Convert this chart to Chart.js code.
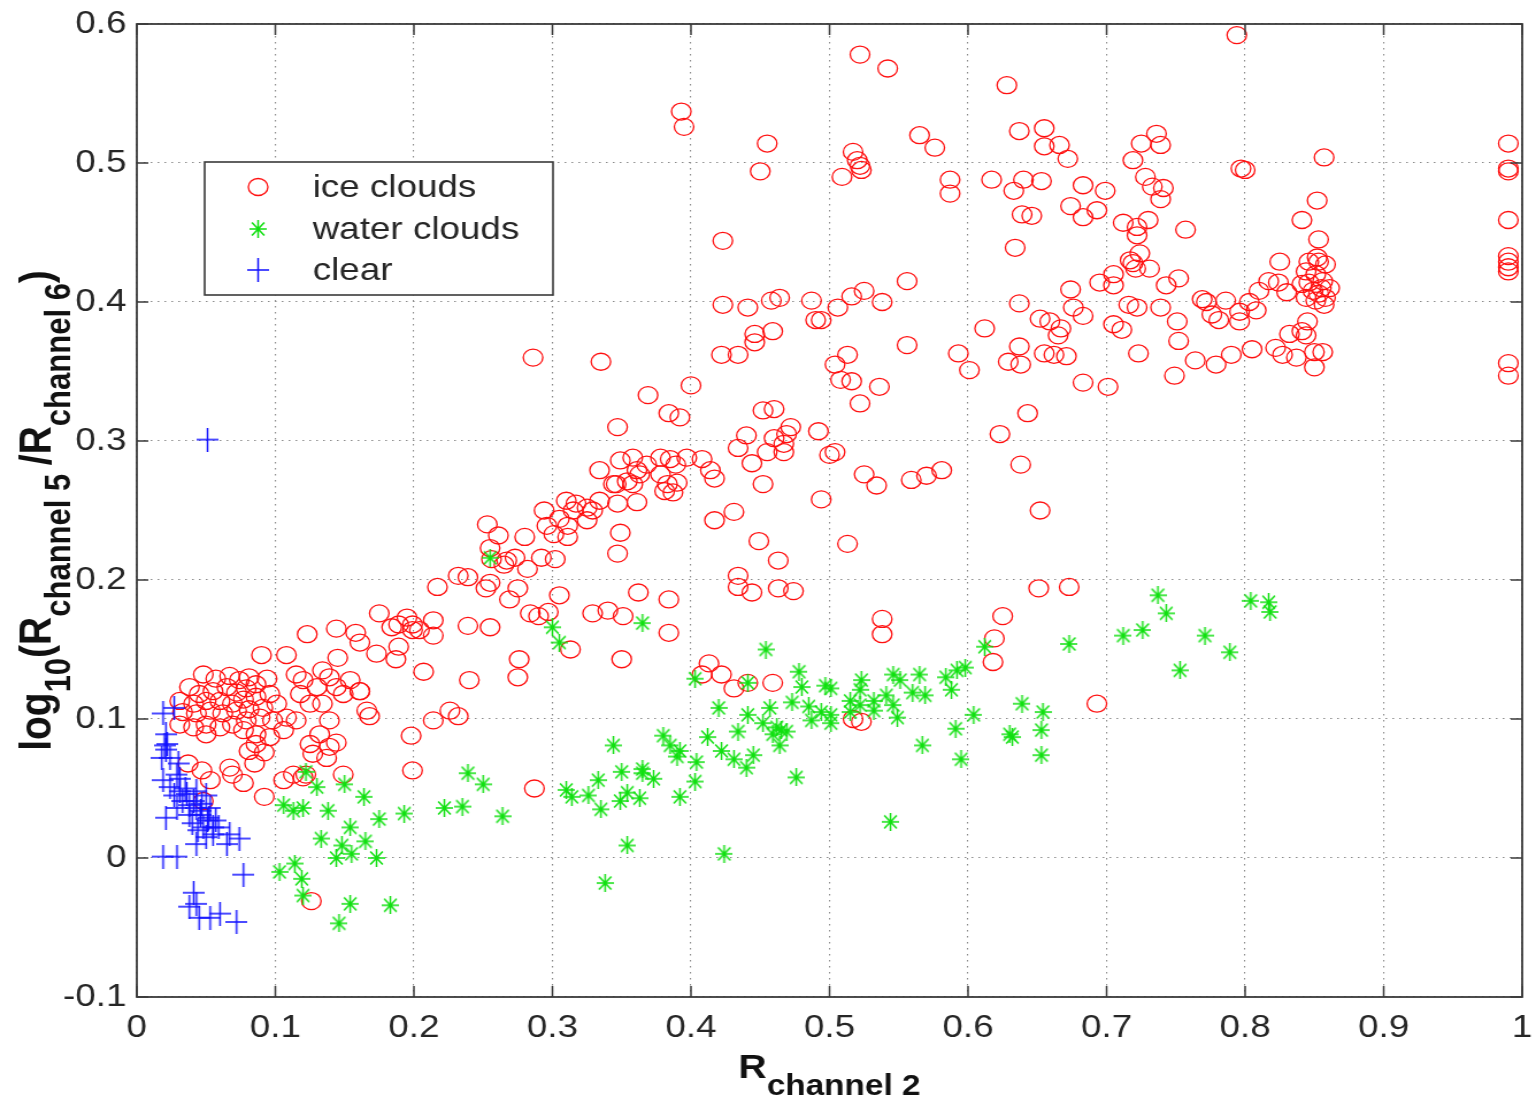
<!DOCTYPE html>
<html><head><meta charset="utf-8">
<script src="https://cdn.jsdelivr.net/npm/chart.js@4.4.1/dist/chart.umd.min.js"></script>
<style>
html,body{margin:0;padding:0;background:#fff;overflow:hidden}
#wrap{width:1336px;height:1104px;transform:scaleX(1.1497);transform-origin:0 0}
canvas{display:block}
</style></head><body>
<div id="wrap"><canvas id="c" width="1336" height="1104"></canvas></div>
<script>
// ---------- data ----------
const seriesLabels = ['ice clouds', 'water clouds', 'clear'];
const xTicks = [0,0.1,0.2,0.3,0.4,0.5,0.6,0.7,0.8,0.9,1];
const xTickLabels = ['0','0.1','0.2','0.3','0.4','0.5','0.6','0.7','0.8','0.9','1'];
const yTicks = [-0.1,0,0.1,0.2,0.3,0.4,0.5,0.6];
const yTickLabels = ['-0.1','0','0.1','0.2','0.3','0.4','0.5','0.6'];

const iceX = [
 0.522,0.542,0.628,0.794,0.393,0.395,0.455,0.450,0.423,0.565,
 0.576,0.517,0.520,0.522,0.523,0.509,0.587,0.587,0.617,0.637,
 0.655,0.655,0.666,0.672,0.633,0.640,0.653,0.639,0.646,0.683,
 0.699,0.674,0.683,0.693,0.634,0.719,0.725,0.736,0.739,0.728,
 0.733,0.741,0.739,0.712,0.722,0.730,0.722,0.717,0.724,0.721,
 0.731,0.719,0.705,0.695,0.705,0.743,0.752,0.797,0.800,0.857,
 0.852,0.841,0.757,0.853,0.990,0.990,0.990,0.990,
 0.556,0.525,0.516,0.506,0.538,0.494,0.674,0.637,0.676,0.683,
 0.716,0.722,0.739,0.751,0.612,0.652,0.659,0.667,0.665,0.705,
 0.711,0.825,0.817,0.824,0.830,
 0.846,0.853,0.858,0.844,0.851,0.846,0.856,0.861,0.849,0.853,
 0.858,0.851,0.844,0.841,0.855,0.857,0.852,
 0.769,0.772,0.786,0.776,0.781,0.796,0.796,0.803,0.808,0.810,
 0.990,0.990,0.990,0.990,
 0.423,0.441,0.458,0.464,0.487,0.490,
 0.752,0.749,0.764,0.779,0.790,0.805,0.822,0.827,0.837,0.832,
 0.841,0.845,0.844,0.850,0.856,0.850,0.990,0.990,
 0.556,0.513,0.504,0.508,0.516,0.536,0.522,0.593,0.601,0.637,
 0.629,0.638,0.655,0.662,0.671,0.723,0.683,0.701,0.643,0.623,
 0.286,0.335,0.369,0.384,0.392,0.400,0.347,0.422,0.434,0.446,
 0.446,0.459,0.452,0.460,0.440,0.434,0.444,0.460,0.467,0.472,
 0.469,0.455,0.467,0.492,0.500,0.504,0.525,0.534,0.452,0.494,
 0.513,0.417,0.431,0.449,0.463,0.434,0.434,0.444,0.463,0.474,
 0.384,0.384,0.362,0.559,0.570,0.581,0.638,0.652,
 0.349,0.358,0.368,0.361,0.363,0.354,0.346,0.358,0.378,0.385,
 0.389,0.397,0.408,0.414,0.417,0.378,0.383,0.390,0.387,0.381,
 0.334,0.344,0.361,0.347,
 0.310,0.317,0.325,0.315,0.334,0.329,0.325,0.294,0.296,0.305,
 0.311,0.301,0.311,0.349,0.347,
 0.253,0.261,0.255,0.256,0.265,0.273,0.280,0.292,0.302,0.282,
 0.232,0.239,0.217,0.255,0.252,0.275,0.269,0.305,0.284,0.290,
 0.297,0.329,0.340,0.351,0.239,0.255,0.214,0.214,0.204,0.313,
 0.276,0.350,0.267,
 0.175,0.144,0.158,0.161,0.173,0.187,0.189,0.195,0.199,0.199,
 0.207,0.123,0.108,0.090,0.145,0.161,0.166,0.168,0.198,0.199,
 0.214,0.226,0.232,0.240,0.275,0.287,0.184,0.189,
 0.048,0.057,0.067,0.074,0.081,0.038,0.045,0.055,0.065,0.072,
 0.079,0.086,0.094,0.031,0.041,0.050,0.060,0.069,0.077,0.086,
 0.096,0.033,0.043,0.053,0.062,0.072,0.081,0.091,0.101,0.031,
 0.041,0.050,0.060,0.069,0.079,0.089,0.098,0.108,0.050,0.077,
 0.086,0.096,0.106,0.115,0.118,0.125,0.130,0.134,0.139,0.144,
 0.149,0.154,0.161,0.115,0.120,0.134,0.139,0.132,0.125,0.139,
 0.144,0.137,0.149,0.127,0.122,0.037,0.047,0.053,0.067,0.077,
 0.069,0.085,0.081,0.092,0.086,0.106,0.113,0.120,0.092,0.048,
 0.126,
 0.413,0.408,0.422,0.431,0.441,0.459,0.538,0.538,0.517,0.523,
 0.625,0.619,0.618,0.651,0.673,0.693
];
const iceY = [
 0.578,0.568,0.556,0.592,0.537,0.526,0.514,0.494,0.444,0.520,
 0.511,0.508,0.502,0.498,0.495,0.490,0.488,0.478,0.488,0.523,
 0.525,0.512,0.513,0.503,0.480,0.488,0.487,0.463,0.462,0.484,
 0.480,0.469,0.461,0.466,0.439,0.502,0.514,0.521,0.513,0.490,
 0.483,0.482,0.474,0.457,0.454,0.459,0.448,0.430,0.435,0.424,
 0.424,0.428,0.420,0.414,0.412,0.412,0.417,0.496,0.495,0.504,
 0.473,0.459,0.452,0.445,0.514,0.496,0.494,0.459,
 0.415,0.408,0.404,0.396,0.400,0.387,0.409,0.399,0.396,0.390,
 0.398,0.396,0.396,0.386,0.381,0.388,0.386,0.381,0.376,0.384,
 0.380,0.429,0.415,0.414,0.407,
 0.429,0.429,0.427,0.422,0.420,0.414,0.415,0.410,0.408,0.406,
 0.403,0.401,0.403,0.413,0.410,0.398,0.432,
 0.402,0.400,0.401,0.391,0.387,0.393,0.386,0.400,0.394,0.408,
 0.433,0.429,0.425,0.422,
 0.398,0.396,0.401,0.403,0.401,0.387,
 0.372,0.347,0.358,0.355,0.362,0.366,0.367,0.362,0.360,0.377,
 0.379,0.386,0.376,0.364,0.364,0.353,0.356,0.347,
 0.369,0.362,0.355,0.344,0.343,0.339,0.327,0.363,0.351,0.368,
 0.357,0.355,0.363,0.362,0.361,0.363,0.342,0.339,0.320,0.305,
 0.360,0.357,0.333,0.320,0.317,0.340,0.310,0.362,0.362,0.371,
 0.377,0.379,0.322,0.323,0.304,0.295,0.284,0.302,0.298,0.310,
 0.305,0.292,0.292,0.307,0.290,0.292,0.276,0.268,0.269,0.258,
 0.226,0.243,0.249,0.228,0.214,0.203,0.195,0.191,0.194,0.192,
 0.186,0.162,0.191,0.272,0.275,0.279,0.283,0.250,
 0.286,0.288,0.283,0.279,0.276,0.271,0.269,0.269,0.288,0.287,
 0.283,0.288,0.287,0.279,0.273,0.276,0.269,0.270,0.263,0.264,
 0.279,0.269,0.256,0.255,
 0.257,0.255,0.252,0.250,0.257,0.250,0.243,0.250,0.239,0.244,
 0.239,0.233,0.231,0.234,0.219,
 0.240,0.232,0.223,0.215,0.211,0.216,0.231,0.216,0.215,0.208,
 0.203,0.202,0.195,0.198,0.194,0.194,0.186,0.189,0.176,0.174,
 0.177,0.176,0.178,0.174,0.167,0.166,0.171,0.160,0.164,0.150,
 0.143,0.143,0.214,
 0.176,0.165,0.162,0.155,0.147,0.143,0.168,0.173,0.168,0.164,
 0.134,0.161,0.146,0.146,0.144,0.120,0.106,0.102,0.088,0.063,
 0.099,0.106,0.102,0.128,0.130,0.050,0.166,0.152,
 0.132,0.129,0.131,0.128,0.130,0.123,0.118,0.120,0.123,0.119,
 0.122,0.125,0.129,0.113,0.111,0.113,0.113,0.111,0.114,0.116,
 0.118,0.105,0.104,0.106,0.104,0.106,0.107,0.108,0.111,0.096,
 0.094,0.096,0.094,0.096,0.099,0.101,0.099,0.101,0.089,0.092,
 0.089,0.087,0.092,0.099,0.118,0.111,0.123,0.135,0.130,0.123,
 0.118,0.128,0.120,0.132,0.128,0.111,0.099,0.089,0.082,0.080,
 0.083,0.072,0.060,0.075,0.060,0.068,0.063,0.056,0.065,0.054,
 0.060,0.068,0.077,0.076,0.082,0.056,0.060,0.058,0.044,0.041,
 -0.031,
 0.140,0.132,0.132,0.122,0.126,0.126,0.172,0.161,0.100,0.098,
 0.174,0.158,0.141,0.194,0.195,0.111
];

const waterX = [
 0.300,0.305,0.365,0.454,0.403,0.441,
 0.478,0.480,0.497,0.501,0.523,0.522,0.546,0.551,0.565,0.584,
 0.592,0.598,0.588,0.560,0.569,0.546,0.549,0.473,0.485,0.494,
 0.501,0.487,0.501,0.515,0.522,0.532,0.541,0.515,0.532,
 0.420,0.457,0.441,0.452,0.462,0.469,0.459,0.434,0.412,0.380,
 0.385,0.392,0.390,0.404,0.422,0.431,0.440,0.445,0.464,0.465,
 0.344,0.333,0.350,0.365,0.373,0.365,
 0.310,0.314,0.326,0.335,0.349,0.354,0.363,0.392,0.403,0.476,
 0.544,0.354,0.424,0.338,0.567,0.591,0.595,0.604,0.639,0.654,
 0.630,0.632,0.653,0.653,0.612,0.673,0.712,0.726,0.737,0.743,
 0.771,0.789,0.753,0.804,0.817,0.818,
 0.122,0.130,0.150,0.164,0.106,0.113,0.120,0.138,0.154,0.175,
 0.193,0.133,0.148,0.155,0.144,0.165,0.173,0.103,0.114,0.119,
 0.120,0.154,0.183,0.146,
 0.222,0.235,0.239,0.250,0.264,0.255
];
const waterY = [
 0.166,0.155,0.169,0.150,0.129,0.126,
 0.134,0.123,0.124,0.122,0.128,0.121,0.132,0.128,0.132,0.130,
 0.135,0.137,0.121,0.119,0.117,0.110,0.101,0.112,0.109,0.105,
 0.103,0.099,0.097,0.113,0.110,0.113,0.117,0.105,0.106,
 0.108,0.108,0.103,0.097,0.094,0.091,0.089,0.091,0.087,0.088,
 0.081,0.077,0.073,0.069,0.077,0.071,0.065,0.074,0.081,0.092,
 0.081,0.056,0.062,0.061,0.057,0.064,
 0.049,0.044,0.045,0.035,0.041,0.047,0.043,0.044,0.055,0.058,
 0.026,0.009,0.003,-0.018,0.081,0.093,0.071,0.103,0.111,0.105,
 0.089,0.087,0.092,0.074,0.152,0.154,0.160,0.164,0.189,0.176,
 0.160,0.148,0.135,0.185,0.184,0.177,
 0.062,0.051,0.053,0.044,0.038,0.034,0.036,0.034,0.022,0.028,
 0.032,0.014,0.009,0.003,0.000,0.012,0.000,-0.010,-0.004,-0.015,
 -0.027,-0.033,-0.034,-0.047,
 0.036,0.037,0.061,0.053,0.030,0.216
];

const clearX = [
 0.027,0.019,0.021,0.022,0.021,0.018,0.024,0.020,0.029,0.019,
 0.024,0.031,0.030,0.031,0.036,0.041,0.043,0.038,0.046,0.051,
 0.055,0.048,0.043,0.047,0.052,0.057,0.059,0.067,0.074,0.065,
 0.055,0.021,0.043,0.033,0.029,0.050,0.046,0.038,0.019,0.029,
 0.077,0.041,0.038,0.045,0.053,0.060,0.072,0.043,0.051,0.040,
 0.044,0.050,0.035,0.053,0.027
];
const clearY = [
 0.108,0.104,0.089,0.082,0.078,0.072,0.072,0.081,0.060,0.056,
 0.051,0.057,0.068,0.048,0.046,0.041,0.036,0.031,0.031,0.027,
 0.022,0.022,0.048,0.039,0.029,0.027,0.022,0.017,0.014,0.010,
 0.017,0.029,0.010,0.041,0.036,0.045,0.034,0.038,0.001,0.001,
 -0.012,-0.025,-0.035,-0.043,-0.043,-0.040,-0.046,-0.033,0.301,0.025,
 0.020,0.015,0.050,0.036,0.045
];

// ---------- styles ----------
const RED = '#ff1010', GREEN = '#10e010', BLUE = '#1010ff';
const FONT = '"Liberation Sans", Arial, Helvetica, sans-serif';
const TXT = '#262626';

function makePlus(w, h, color, lw) {
  const c = document.createElement('canvas'); c.width = w; c.height = h;
  const g = c.getContext('2d'); g.strokeStyle = color; g.lineWidth = lw;
  g.beginPath(); g.moveTo(0, h/2); g.lineTo(w, h/2); g.moveTo(w/2, 0); g.lineTo(w/2, h); g.stroke();
  return c;
}
function makeStar(w, h, color, lw) {
  const c = document.createElement('canvas'); c.width = w; c.height = h;
  const g = c.getContext('2d'); g.strokeStyle = color; g.lineWidth = lw;
  const cx = w/2, cy = h/2, dx = w/2*0.72, dy = h/2*0.72;
  g.beginPath();
  g.moveTo(0, cy); g.lineTo(w, cy);
  g.moveTo(cx, 0); g.lineTo(cx, h);
  g.moveTo(cx-dx, cy-dy); g.lineTo(cx+dx, cy+dy);
  g.moveTo(cx-dx, cy+dy); g.lineTo(cx+dx, cy-dy);
  g.stroke();
  return c;
}
const starImg = makeStar(15, 18, GREEN, 1.5);
const plusImg = makePlus(19, 24, BLUE, 1.5);

const toPts = (xs, ys) => xs.map((v, i) => ({x: v, y: ys[i]}));

function drawParts(ctx, parts, x0, base, subOff) {
  let cx = x0;
  parts.forEach(p => {
    ctx.font = p.sub ? p.fs : p.fm;
    ctx.fillText(p.t, cx, base + (p.sub ? subOff : 0));
    cx += ctx.measureText(p.t).width;
  });
}
function widthParts(ctx, parts) {
  let w = 0;
  parts.forEach(p => { ctx.font = p.sub ? p.fs : p.fm; w += ctx.measureText(p.t).width; });
  return w;
}

const deco = {
  id: 'deco',
  afterDraw(chart) {
    const {ctx, chartArea: a, scales: {x, y}} = chart;
    ctx.save();
    // frame
    ctx.strokeStyle = '#3a3a3a'; ctx.lineWidth = 1.8;
    ctx.strokeRect(a.left, a.top, a.right - a.left, a.bottom - a.top);
    // inward ticks on all sides
    ctx.lineWidth = 1.5;
    ctx.beginPath();
    xTicks.forEach(v => {
      const px = x.getPixelForValue(v);
      ctx.moveTo(px, a.bottom); ctx.lineTo(px, a.bottom - 11);
      ctx.moveTo(px, a.top); ctx.lineTo(px, a.top + 11);
    });
    yTicks.forEach(v => {
      const py = y.getPixelForValue(v);
      ctx.moveTo(a.left, py); ctx.lineTo(a.left + 10, py);
      ctx.moveTo(a.right, py); ctx.lineTo(a.right - 10, py);
    });
    ctx.stroke();

    ctx.fillStyle = '#111';
    ctx.textBaseline = 'alphabetic'; ctx.textAlign = 'left';
    // x title
    const xm = 'bold 34px ' + FONT, xs = 'bold 29px ' + FONT;
    const xParts = [{t: 'R', fm: xm, fs: xs}, {t: 'channel 2', sub: true, fm: xm, fs: xs}];
    const xw = widthParts(ctx, xParts);
    drawParts(ctx, xParts, (a.left + a.right) / 2 - xw / 2, 1078, 17);
    // y title
    const ym = 'bold 39px ' + FONT, ys = 'bold 31px ' + FONT;
    const yParts = [
      {t: 'log', fm: ym, fs: ys}, {t: '10', sub: true, fm: ym, fs: ys},
      {t: '(R', fm: ym, fs: ys}, {t: 'channel 5 ', sub: true, fm: ym, fs: ys},
      {t: '/R', fm: ym, fs: ys}, {t: 'channel 6', sub: true, fm: ym, fs: ys},
      {t: ')', fm: ym, fs: ys}
    ];
    const yw = widthParts(ctx, yParts);
    ctx.save();
    ctx.translate(44, (a.top + a.bottom) / 2);
    ctx.rotate(-Math.PI / 2);
    drawParts(ctx, yParts, -yw / 2, 0, 17);
    ctx.restore();

    // legend
    const L = {x0: 178, y0: 162, x1: 481, y1: 295};
    ctx.fillStyle = '#fff';
    ctx.fillRect(L.x0, L.y0, L.x1 - L.x0, L.y1 - L.y0);
    ctx.strokeStyle = '#3a3a3a'; ctx.lineWidth = 1.6;
    ctx.strokeRect(L.x0, L.y0, L.x1 - L.x0, L.y1 - L.y0);
    const rows = [187, 229, 270];
    const mx = 224.5;
    chart.data.datasets.forEach((ds, i) => {
      const ry = rows[i];
      if (ds.pointStyle === 'circle') {
        ctx.beginPath(); ctx.strokeStyle = ds.borderColor; ctx.lineWidth = ds.borderWidth;
        ctx.arc(mx, ry, ds.pointRadius, 0, Math.PI * 2); ctx.stroke();
      } else {
        const im = ds.pointStyle;
        ctx.drawImage(im, mx - im.width / 2, ry - im.height / 2);
      }
      ctx.fillStyle = TXT; ctx.font = '32px ' + FONT; ctx.textBaseline = 'middle';
      ctx.fillText(ds.label, 272, ry + 1);
    });
    ctx.restore();
  }
};

new Chart(document.getElementById('c'), {
  type: 'scatter',
  data: {
    datasets: [
      {label: seriesLabels[0], data: toPts(iceX, iceY), pointStyle: 'circle', pointRadius: 8.5,
       borderColor: RED, backgroundColor: 'rgba(0,0,0,0)', borderWidth: 1.3, order: 3},
      {label: seriesLabels[1], data: toPts(waterX, waterY), pointStyle: starImg, pointRadius: 8,
       borderColor: GREEN, backgroundColor: GREEN, borderWidth: 1, order: 2},
      {label: seriesLabels[2], data: toPts(clearX, clearY), pointStyle: plusImg, pointRadius: 10,
       borderColor: BLUE, backgroundColor: BLUE, borderWidth: 1, order: 1}
    ]
  },
  options: {
    responsive: false, animation: false, devicePixelRatio: 1,
    layout: {padding: {left: 0, top: 24, right: 12, bottom: 0}},
    plugins: {legend: {display: false}, tooltip: {enabled: false}},
    elements: {point: {hoverRadius: 8}},
    scales: {
      x: {
        type: 'linear', min: 0, max: 1,
        afterBuildTicks: s => { s.ticks = xTicks.map(v => ({value: v})); },
        afterFit: s => { s.height = 107; s.paddingLeft = 0; s.paddingRight = 0; },
        ticks: {autoSkip: false, maxRotation: 0, padding: 12, color: TXT,
                font: {family: FONT, size: 32}, callback: (v, i) => xTickLabels[i]},
        grid: {color: '#8a8a8a', lineWidth: 1.1, drawTicks: false},
        border: {display: false, dash: [1.5, 4.5]}
      },
      y: {
        type: 'linear', min: -0.1, max: 0.6,
        afterBuildTicks: s => { s.ticks = yTicks.map(v => ({value: v})); },
        afterFit: s => { s.width = 119; s.paddingTop = 0; s.paddingBottom = 0; },
        ticks: {autoSkip: false, padding: 9, color: TXT,
                font: {family: FONT, size: 32}, callback: (v, i) => yTickLabels[i]},
        grid: {color: '#8a8a8a', lineWidth: 1.1, drawTicks: false},
        border: {display: false, dash: [1.5, 4.5]}
      }
    }
  },
  plugins: [deco]
});
</script>
</body></html>
